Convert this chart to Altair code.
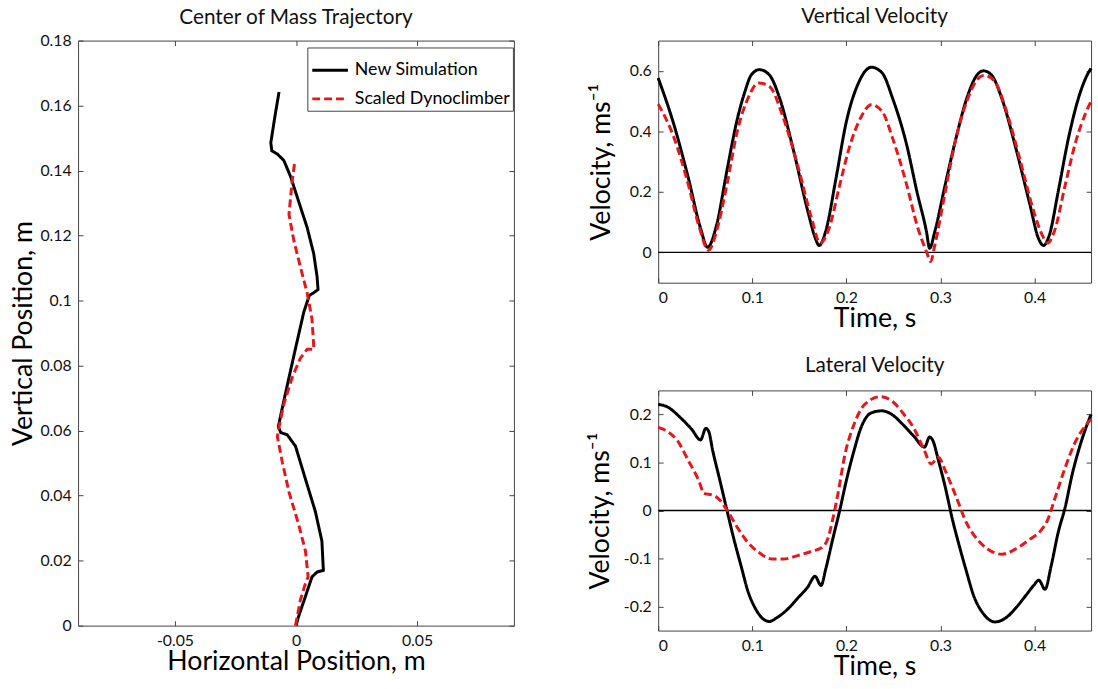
import altair as alt
import pandas as pd

FONT = "Lato"
SERIES = ["New Simulation", "Scaled Dynoclimber"]
COLORS = ["#000000", "#e8161b"]
DASHES = [[1, 0], [8, 4]]

# Centre-of-mass path (horizontal x, vertical y), in time order from the bottom
com_sim_x = [0, 0.0011, 0.0039, 0.0066, 0.0087, 0.0113, 0.0107, 0.0080, 0.0039, -0.0002,
             -0.0036, -0.0063, -0.0073, -0.0056, -0.0029, -0.0002, 0.0032, 0.0055, 0.0073,
             0.0091, 0.0087, 0.0073, 0.0046, 0.0011, -0.0022, -0.0050, -0.0077, -0.0100,
             -0.0104, -0.0087, -0.0070]
com_sim_y = [0, 0.0029, 0.0090, 0.0150, 0.0165, 0.0170, 0.0260, 0.0351, 0.0451, 0.0552,
             0.0587, 0.0594, 0.0612, 0.0672, 0.0763, 0.0853, 0.0964, 0.1016, 0.1024,
             0.1034, 0.1074, 0.1145, 0.1225, 0.1305, 0.1381, 0.1431, 0.1451, 0.1461,
             0.1486, 0.1567, 0.1642]
com_dyn_x = [-0.0002, 0.0018, 0.0039, 0.0050, 0.0039, 0.0011, -0.0029, -0.0056, -0.0077,
             -0.0070, -0.0050, -0.0016, 0.0018, 0.0046, 0.0073, 0.0073, 0.0066, 0.0046,
             0.0018, -0.0009, -0.0029, -0.0016, -0.0005]
com_dyn_y = [0.0, 0.0079, 0.0130, 0.0150, 0.0230, 0.0311, 0.0411, 0.0501, 0.0582, 0.0612,
             0.0682, 0.0763, 0.0823, 0.0850, 0.0850, 0.0863, 0.0944, 0.1024, 0.1104,
             0.1185, 0.1265, 0.1366, 0.1428]

# Vertical velocity (m/s) against time (s)
vv_sim_t = [0, 0.0169, 0.032, 0.045, 0.0524, 0.062, 0.073, 0.084, 0.092, 0.099, 0.1075,
            0.118, 0.129, 0.144, 0.159, 0.167, 0.171, 0.178, 0.189, 0.2, 0.212, 0.2266,
            0.238, 0.249, 0.264, 0.275, 0.285, 0.2884, 0.294, 0.305, 0.3165, 0.328, 0.339,
            0.3457, 0.354, 0.365, 0.38, 0.395, 0.404, 0.4094, 0.4157, 0.425, 0.436, 0.4476,
            0.457, 0.46]
vv_sim_v = [0.576, 0.42, 0.246, 0.08, 0.017, 0.09, 0.27, 0.44, 0.53, 0.587, 0.604, 0.587,
            0.51, 0.334, 0.136, 0.047, 0.023, 0.07, 0.246, 0.433, 0.554, 0.612, 0.593, 0.51,
            0.356, 0.2, 0.07, 0.014, 0.07, 0.224, 0.378, 0.51, 0.587, 0.6, 0.587, 0.51,
            0.345, 0.158, 0.047, 0.023, 0.058, 0.2, 0.378, 0.52, 0.593, 0.608]
vv_dyn_t = [0, 0.0169, 0.032, 0.043, 0.0536, 0.062, 0.073, 0.084, 0.0955, 0.1067, 0.118,
            0.133, 0.148, 0.163, 0.172, 0.1816, 0.193, 0.204, 0.215, 0.2266, 0.238, 0.249,
            0.264, 0.275, 0.285, 0.2895, 0.294, 0.305, 0.3165, 0.328, 0.339, 0.3464, 0.3577,
            0.369, 0.384, 0.399, 0.408, 0.4139, 0.421, 0.4326, 0.4438, 0.455, 0.46]
vv_dyn_v = [0.49, 0.378, 0.224, 0.09, 0.007, 0.07, 0.224, 0.4, 0.51, 0.56, 0.549, 0.444,
            0.29, 0.113, 0.031, 0.08, 0.224, 0.356, 0.444, 0.488, 0.466, 0.378, 0.224, 0.09,
            0.003, -0.03, 0.025, 0.2, 0.378, 0.5, 0.571, 0.585, 0.565, 0.477, 0.312, 0.136,
            0.058, 0.031, 0.07, 0.224, 0.367, 0.466, 0.5]

# Lateral velocity (m/s) against time (s)
lv_sim_t = [0, 0.0094, 0.0243, 0.0356, 0.045, 0.0506, 0.0536, 0.058, 0.0655, 0.073, 0.0805,
            0.088, 0.0955, 0.103, 0.1105, 0.118, 0.1255, 0.1367, 0.148, 0.159, 0.1667, 0.173,
            0.178, 0.1854, 0.193, 0.2, 0.208, 0.2154, 0.2266, 0.2378, 0.249, 0.26, 0.2715,
            0.283, 0.2884, 0.292, 0.2978, 0.305, 0.3127, 0.32, 0.3277, 0.335, 0.3464, 0.3577,
            0.369, 0.38, 0.391, 0.399, 0.4045, 0.411, 0.4176, 0.425, 0.4326, 0.44, 0.4476,
            0.455, 0.46]
lv_sim_v = [0.221, 0.216, 0.192, 0.169, 0.147, 0.171, 0.165, 0.124, 0.063, 0.001, -0.06,
            -0.115, -0.169, -0.203, -0.224, -0.231, -0.224, -0.207, -0.183, -0.159, -0.137,
            -0.156, -0.122, -0.06, 0.001, 0.063, 0.124, 0.172, 0.2035, 0.2075, 0.199, 0.179,
            0.155, 0.132, 0.153, 0.145, 0.104, 0.049, -0.019, -0.074, -0.128, -0.176, -0.217,
            -0.232, -0.224, -0.203, -0.176, -0.156, -0.145, -0.164, -0.115, -0.046, 0.008,
            0.076, 0.131, 0.175, 0.2]
lv_dyn_t = [0, 0.0094, 0.0206, 0.032, 0.043, 0.0487, 0.058, 0.0655, 0.073, 0.0843, 0.0955,
            0.1067, 0.1217, 0.133, 0.148, 0.163, 0.174, 0.18, 0.1854, 0.191, 0.1985, 0.208,
            0.219, 0.236, 0.249, 0.26, 0.2715, 0.283, 0.29, 0.2978, 0.305, 0.3165, 0.3277,
            0.339, 0.35, 0.365, 0.38, 0.3948, 0.406, 0.414, 0.421, 0.4326, 0.4438, 0.455, 0.46]
lv_dyn_v = [0.173, 0.165, 0.145, 0.104, 0.063, 0.0355, 0.032, 0.022, 0.001, -0.036, -0.067,
            -0.087, -0.101, -0.101, -0.094, -0.085, -0.077, -0.06, -0.019, 0.035, 0.117, 0.179,
            0.22, 0.237, 0.227, 0.203, 0.172, 0.124, 0.097, 0.111, 0.083, 0.029, -0.026, -0.06,
            -0.08, -0.091, -0.08, -0.06, -0.043, -0.019, 0.022, 0.09, 0.145, 0.179, 0.19]

# Axis ticks
com_xticks = [-0.05, 0, 0.05]
com_yticks = [0, 0.02, 0.04, 0.06, 0.08, 0.1, 0.12, 0.14, 0.16, 0.18]
time_ticks = [0, 0.1, 0.2, 0.3, 0.4]
vv_ticks = [0, 0.2, 0.4, 0.6]
lv_ticks = [-0.2, -0.1, 0, 0.1, 0.2]


def two_series(xa, ya, xb, yb):
    a = pd.DataFrame({"x": xa, "y": ya, "series": SERIES[0]})
    b = pd.DataFrame({"x": xb, "y": yb, "series": SERIES[1]})
    a["i"] = range(len(a))
    b["i"] = range(len(b))
    return pd.concat([a, b], ignore_index=True)


MINUS_FIX = "replace(datum.label, '\u2212', '-')"


def main_axis(orient, values, title, title_pad, label_pad):
    return alt.Axis(orient=orient, values=values, title=title, format="~g",
                    labelExpr=MINUS_FIX, offset=-5, tickSize=5, tickColor="#444",
                    tickWidth=1, domain=False, grid=False, labelFont=FONT,
                    labelFontSize=16, labelColor="#111", labelPadding=label_pad,
                    titleFont=FONT, titleFontSize=27, titleFontWeight="normal",
                    titleColor="#000", titlePadding=title_pad)


def tick_axis(orient, values):
    return alt.Axis(orient=orient, values=values, title=None, labels=False,
                    offset=-5, tickSize=5, tickColor="#444", tickWidth=1,
                    domain=False, grid=False)


def panel(df, xdom, ydom, xticks, yticks, xtitle, ytitle, title, title_offset,
          w, h, interp, ytitle_pad, legend=None, zero_line=False):
    color = alt.Color("series:N", scale=alt.Scale(domain=SERIES, range=COLORS),
                      legend=legend)
    dash = alt.StrokeDash("series:N", scale=alt.Scale(domain=SERIES, range=DASHES),
                          legend=legend)
    lines = alt.Chart(df).mark_line(strokeWidth=3, interpolate=interp).encode(
        x=alt.X("x:Q", scale=alt.Scale(domain=xdom, nice=False, zero=False),
                axis=main_axis("bottom", xticks, xtitle, 0, 7)),
        y=alt.Y("y:Q", scale=alt.Scale(domain=ydom, nice=False, zero=False),
                axis=main_axis("left", yticks, ytitle, ytitle_pad, 7)),
        color=color,
        strokeDash=dash,
        order=alt.Order("i:Q"),
    )
    ticks = alt.Chart(df).mark_line(opacity=0).encode(
        x=alt.X("x:Q", axis=tick_axis("top", xticks)),
        y=alt.Y("y:Q", axis=tick_axis("right", yticks)),
        detail="series:N",
    )
    layers = [lines, ticks]
    if zero_line:
        zero = alt.Chart(pd.DataFrame({"y": [0]})).mark_rule(
            color="#000", strokeWidth=1.3).encode(y=alt.Y("y:Q", axis=None))
        layers.insert(0, zero)
    return alt.layer(*layers).resolve_axis(x="independent", y="independent").properties(
        width=w, height=h,
        title=alt.TitleParams(title, font=FONT, fontSize=21, fontWeight="normal",
                              color="#111", offset=title_offset),
    )


legend = alt.Legend(title=None, orient="none", legendX=232, legendY=7,
                    symbolType="stroke", symbolStrokeWidth=3, symbolSize=1300,
                    labelFont=FONT, labelFontSize=18, labelColor="#000",
                    strokeColor="#444", fillColor="white", padding=3,
                    rowPadding=0, labelOffset=5)

com = panel(two_series(com_sim_x, com_sim_y, com_dyn_x, com_dyn_y),
            [-0.09, 0.09], [0, 0.18], com_xticks, com_yticks,
            "Horizontal Position, m", "Vertical Position, m",
            "Center of Mass Trajectory", 5, 441, 592, "linear", 3, legend=legend)

vert = panel(two_series(vv_sim_t, vv_sim_v, vv_dyn_t, vv_dyn_v),
             [0, 0.46], [-0.1, 0.7], time_ticks, vv_ticks,
             "Time, s", "Velocity, ms\u207b\u00b9", "Vertical Velocity", 13,
             438, 245, "monotone", 14, zero_line=True)

lat = panel(two_series(lv_sim_t, lv_sim_v, lv_dyn_t, lv_dyn_v),
            [0, 0.46], [-0.25, 0.25], time_ticks, lv_ticks,
            "Time, s", "Velocity, ms\u207b\u00b9", "Lateral Velocity", 14,
            438, 243, "monotone", 9, zero_line=True)

right = alt.vconcat(vert, lat, spacing=23)

chart = alt.ConcatChart(concat=[com, right], columns=2, spacing=72, align="none").properties(
    padding={"left": 8, "top": 2, "right": 0, "bottom": 0},
).configure_view(stroke="#444", strokeWidth=1)

chart.save("out.html", embed_options={"renderer": "svg", "actions": False})
